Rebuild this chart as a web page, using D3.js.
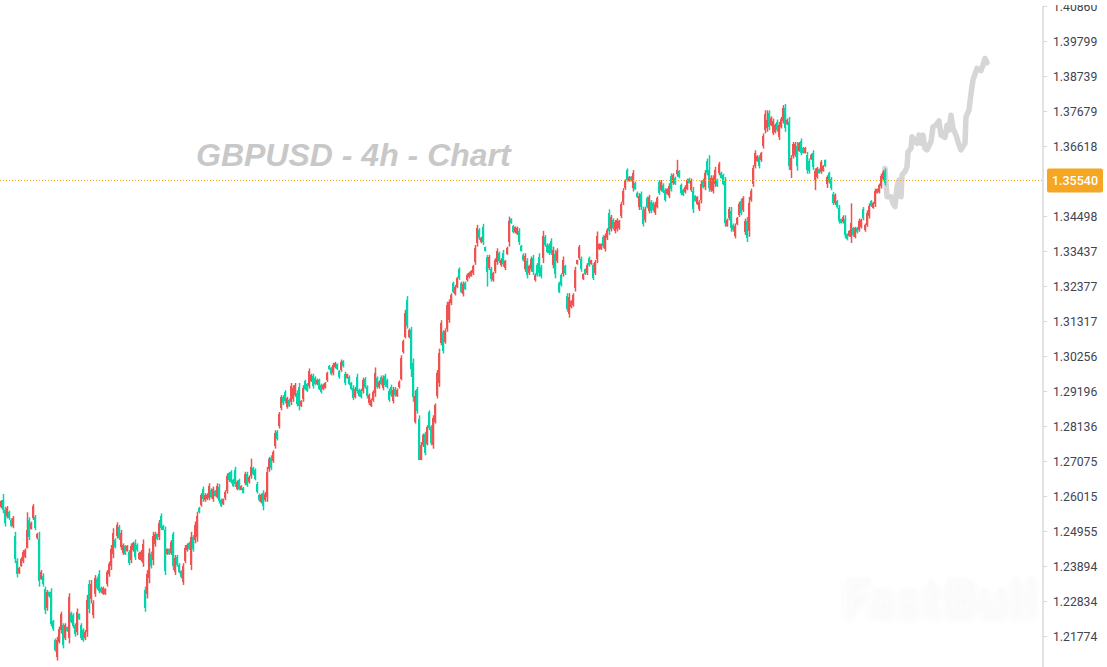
<!DOCTYPE html>
<html><head><meta charset="utf-8">
<script src="https://cdn.jsdelivr.net/npm/d3@7/dist/d3.min.js"></script>
<style>html,body{margin:0;padding:0;background:#fff;overflow:hidden}svg{display:block}</style>
</head><body><svg id="c" width="1107" height="667"></svg>
<script>
// Prices in 1/10000 units, one entry per 4h candle
const highs=[
12589,12608,12569,12571,12557,12534,12541,12493,12413,12387,
12416,12438,12443,12552,12537,12524,12577,12544,12490,12493,
12377,12367,12327,12317,12312,12322,12226,12170,12175,12206,
12251,12216,12216,12206,12307,12251,12246,12216,12261,12246,
12216,12201,12196,12302,12347,12347,12286,12362,12357,12377,
12327,12327,12322,12377,12403,12453,12504,12473,12522,12514,
12499,12458,12453,12453,12438,12458,12463,12470,12458,12433,
12438,12470,12327,12377,12443,12433,12493,12493,12488,12529,
12549,12514,12509,12443,12443,12468,12493,12423,12423,12398,
12377,12398,12453,12458,12463,12493,12483,12524,12554,12569,
12610,12630,12610,12610,12640,12625,12630,12620,12640,12638,
12594,12594,12619,12670,12675,12680,12654,12690,12649,12654,
12634,12629,12675,12675,12664,12715,12690,12685,12644,12609,
12609,12619,12614,12690,12720,12725,12740,12801,12801,12856,
12907,12907,12922,12902,12897,12944,12937,12944,12922,12944,
12892,12937,12954,12944,12988,12972,12972,12964,12957,12957,
12942,12942,12947,12978,12998,12993,13005,13008,13003,12983,
13015,13013,12978,12972,12967,12947,12937,12932,12972,12927,
12927,12960,12962,12937,12912,12897,12922,12991,12964,12952,
12967,12967,12972,12957,12927,12939,12932,12932,12927,12952,
13028,13075,13166,13207,13109,13114,13018,12922,12932,12846,
12765,12791,12796,12816,12861,12816,12846,12882,12983,13048,
13134,13104,13109,13190,13197,13216,13251,13241,13266,13294,
13251,13251,13251,13276,13281,13286,13302,13362,13423,13413,
13387,13426,13357,13332,13332,13296,13281,13322,13352,13342,
13322,13347,13317,13357,13448,13443,13423,13418,13418,13413,
13362,13337,13337,13322,13302,13327,13332,13276,13307,13337,
13302,13405,13392,13367,13367,13382,13357,13347,13352,13251,
13276,13327,13302,13216,13216,13195,13216,13296,13317,13362,
13327,13276,13291,13307,13327,13317,13307,13317,13403,13367,
13367,13392,13397,13413,13470,13453,13443,13438,13443,13438,
13493,13534,13561,13594,13571,13571,13589,13554,13524,13519,
13524,13478,13478,13509,13514,13498,13493,13493,13509,13559,
13559,13549,13534,13534,13549,13579,13579,13569,13620,13589,
13548,13533,13543,13563,13566,13563,13538,13513,13510,13498,
13558,13563,13589,13624,13634,13573,13573,13599,13563,13614,
13584,13578,13568,13442,13477,13477,13427,13427,13447,13493,
13503,13510,13442,13447,13508,13533,13604,13649,13634,13634,
13644,13700,13770,13770,13770,13752,13745,13730,13742,13735,
13750,13786,13789,13745,13750,13634,13674,13674,13674,13674,
13685,13659,13659,13644,13624,13639,13649,13594,13599,13594,
13619,13604,13621,13573,13584,13568,13523,13518,13498,13483,
13442,13452,13452,13397,13407,13488,13417,13417,13417,13442,
13442,13477,13427,13467,13488,13498,13493,13533,13533,13548,
13578,13589,13594];
const lows=[
12564,12549,12509,12534,12529,12507,12504,12398,12355,12365,
12387,12398,12413,12443,12468,12500,12529,12498,12470,12327,
12347,12327,12244,12254,12294,12206,12193,12130,12103,12155,
12185,12140,12165,12190,12155,12216,12201,12175,12180,12226,
12165,12160,12165,12175,12246,12276,12231,12296,12317,12307,
12307,12302,12302,12327,12357,12377,12413,12443,12473,12468,
12438,12423,12423,12433,12392,12398,12433,12408,12433,12408,
12403,12387,12251,12291,12337,12382,12392,12448,12468,12468,
12498,12498,12362,12423,12423,12423,12377,12362,12387,12367,
12352,12332,12398,12433,12438,12377,12433,12458,12463,12549,
12569,12584,12584,12589,12589,12594,12584,12600,12594,12579,
12568,12574,12589,12609,12644,12639,12629,12629,12619,12619,
12619,12609,12634,12629,12639,12654,12664,12649,12609,12584,
12579,12558,12584,12584,12675,12680,12702,12745,12770,12806,
12861,12877,12882,12866,12871,12877,12887,12902,12873,12861,
12871,12887,12922,12917,12927,12947,12927,12937,12937,12922,
12912,12922,12927,12947,12983,12967,12967,12988,12983,12957,
12978,12991,12937,12957,12937,12922,12892,12897,12912,12902,
12897,12912,12927,12897,12877,12871,12887,12902,12927,12927,
12937,12922,12932,12927,12887,12902,12882,12902,12902,12927,
12952,13033,13079,13109,13079,12962,12887,12821,12851,12710,
12710,12750,12725,12755,12801,12755,12745,12821,12897,12932,
13058,13033,13063,13099,13126,13180,13216,13209,13231,13256,
13216,13206,13226,13251,13261,13266,13271,13302,13357,13377,
13367,13362,13342,13236,13286,13251,13251,13276,13302,13307,
13296,13296,13286,13332,13357,13426,13397,13397,13392,13362,
13342,13312,13281,13261,13271,13281,13271,13251,13266,13266,
13261,13307,13357,13337,13332,13332,13291,13261,13307,13216,
13236,13266,13271,13160,13142,13170,13175,13221,13302,13317,
13281,13256,13271,13271,13296,13302,13256,13271,13307,13347,
13347,13352,13342,13377,13392,13403,13408,13397,13403,13408,
13443,13483,13529,13554,13554,13554,13524,13529,13504,13468,
13468,13418,13430,13473,13458,13458,13463,13453,13473,13514,
13524,13519,13493,13514,13504,13524,13544,13544,13569,13564,
13513,13510,13518,13528,13548,13523,13459,13493,13483,13465,
13488,13533,13528,13573,13523,13523,13518,13538,13538,13573,
13563,13543,13417,13417,13437,13402,13402,13382,13422,13447,
13452,13462,13392,13371,13387,13493,13538,13594,13614,13594,
13614,13654,13700,13705,13710,13722,13695,13700,13705,13680,
13715,13730,13705,13725,13589,13565,13624,13629,13587,13644,
13634,13639,13639,13578,13578,13619,13589,13528,13563,13578,
13578,13584,13599,13535,13548,13528,13483,13483,13472,13427,
13427,13427,13382,13376,13387,13368,13387,13382,13397,13402,
13412,13437,13402,13417,13442,13477,13472,13477,13518,13518,
13533,13558,13543];
const opens=[
12568,12590,12560,12540,12552,12530,12510,12480,12405,12368,
12391,12404,12418,12443,12528,12503,12535,12538,12473,12470,
12350,12360,12320,12262,12310,12310,12222,12165,12113,12160,
12195,12210,12172,12204,12170,12247,12240,12210,12190,12243,
12210,12195,12170,12190,12335,12290,12240,12305,12350,12365,
12324,12306,12305,12334,12364,12388,12426,12468,12480,12507,
12447,12428,12449,12436,12431,12407,12437,12460,12454,12412,
12408,12400,12316,12304,12353,12426,12407,12455,12485,12477,
12542,12512,12500,12426,12440,12430,12485,12371,12418,12394,
12373,12342,12406,12437,12459,12394,12476,12468,12476,12566,
12575,12623,12588,12592,12597,12620,12591,12617,12600,12630,
12590,12577,12594,12618,12670,12674,12650,12681,12624,12649,
12621,12626,12640,12668,12643,12663,12686,12680,12639,12605,
12584,12610,12589,12600,12682,12718,12708,12753,12796,12813,
12868,12902,12916,12871,12893,12887,12894,12908,12915,12932,
12874,12894,12949,12940,12936,12951,12965,12960,12940,12952,
12937,12925,12930,12952,12996,12989,12973,12991,13000,12979,
12984,13010,12972,12959,12962,12943,12930,12902,12963,12923,
12922,12919,12957,12931,12882,12875,12892,12915,12958,12931,
12962,12929,12966,12952,12921,12933,12890,12927,12906,12931,
12955,13038,13082,13195,13084,13105,13005,12826,12925,12835,
12712,12755,12790,12760,12855,12810,12755,12827,12905,12945,
13065,13098,13068,13106,13135,13185,13246,13214,13236,13288,
13246,13213,13247,13255,13264,13269,13276,13310,13367,13408,
13370,13416,13355,13325,13293,13289,13256,13283,13310,13337,
13300,13339,13291,13336,13371,13441,13419,13400,13396,13405,
13359,13333,13289,13313,13276,13288,13323,13255,13301,13327,
13296,13322,13387,13363,13362,13375,13301,13335,13314,13246,
13270,13275,13297,13208,13153,13174,13181,13232,13304,13324,
13320,13259,13288,13276,13322,13304,13300,13278,13321,13350,
13350,13386,13350,13382,13458,13410,13438,13403,13409,13412,
13450,13491,13534,13588,13556,13569,13534,13550,13521,13476,
13516,13469,13437,13504,13466,13492,13488,13459,13478,13552,
13529,13544,13528,13517,13511,13571,13549,13565,13577,13585,
13543,13530,13522,13533,13563,13529,13527,13510,13487,13470,
13498,13558,13537,13616,13590,13530,13526,13547,13559,13579,
13581,13573,13555,13421,13443,13466,13423,13389,13426,13454,
13495,13469,13400,13436,13405,13499,13548,13602,13617,13628,
13618,13661,13710,13715,13761,13726,13702,13704,13736,13688,
13720,13738,13777,13728,13735,13590,13631,13636,13662,13648,
13677,13656,13642,13634,13617,13622,13640,13560,13568,13592,
13584,13587,13618,13548,13579,13562,13517,13488,13494,13475,
13440,13431,13442,13394,13390,13385,13413,13387,13414,13408,
13416,13471,13406,13424,13449,13495,13475,13485,13520,13522,
13540,13563,13586];
const closes=[
12585,12560,12520,12565,12534,12512,12535,12410,12365,12384,
12412,12432,12438,12500,12478,12520,12570,12505,12487,12345,
12372,12335,12255,12310,12298,12215,12198,12135,12165,12200,
12245,12150,12210,12192,12295,12220,12207,12182,12250,12230,
12172,12165,12190,12285,12260,12335,12278,12352,12323,12315,
12310,12323,12319,12370,12396,12442,12490,12447,12515,12475,
12490,12453,12427,12450,12400,12449,12459,12418,12437,12429,
12433,12457,12262,12365,12428,12390,12479,12486,12471,12520,
12505,12500,12375,12440,12426,12462,12390,12414,12392,12371,
12356,12388,12445,12454,12442,12476,12440,12515,12541,12552,
12604,12591,12606,12606,12632,12599,12623,12603,12633,12587,
12572,12591,12614,12661,12649,12645,12633,12638,12644,12624,
12632,12612,12669,12636,12660,12690,12668,12654,12614,12588,
12604,12570,12609,12675,12713,12687,12734,12792,12775,12849,
12900,12882,12888,12897,12875,12934,12929,12938,12880,12873,
12889,12929,12927,12921,12979,12968,12934,12941,12954,12927,
12917,12939,12944,12973,12985,12971,12999,13005,12986,12961,
13009,12994,12943,12970,12942,12926,12899,12927,12921,12906,
12902,12953,12932,12903,12907,12893,12917,12975,12933,12948,
12942,12960,12938,12932,12893,12908,12924,12907,12923,12948,
13020,13070,13155,13118,13104,12985,12900,12905,12860,12712,
12755,12785,12733,12810,12808,12762,12838,12876,12973,13035,
13125,13040,13102,13180,13190,13211,13221,13236,13261,13262,
13221,13244,13230,13272,13278,13283,13297,13353,13413,13382,
13384,13372,13345,13280,13325,13258,13276,13315,13344,13312,
13318,13304,13312,13353,13435,13429,13401,13415,13414,13370,
13345,13316,13329,13270,13297,13320,13280,13272,13272,13276,
13267,13390,13362,13341,13337,13339,13347,13273,13345,13221,
13242,13318,13276,13168,13205,13191,13210,13285,13315,13355,
13288,13273,13274,13302,13301,13315,13263,13310,13389,13364,
13364,13358,13389,13408,13404,13446,13413,13432,13437,13434,
13486,13526,13556,13560,13569,13556,13579,13533,13507,13511,
13476,13427,13471,13478,13506,13464,13467,13487,13504,13521,
13554,13523,13499,13531,13542,13532,13574,13548,13590,13568,
13518,13513,13539,13558,13551,13557,13470,13496,13506,13493,
13548,13538,13580,13581,13534,13566,13565,13590,13542,13608,
13566,13548,13430,13438,13471,13413,13406,13420,13443,13486,
13460,13503,13434,13382,13490,13527,13594,13641,13631,13600,
13640,13693,13760,13740,13719,13747,13737,13725,13711,13727,
13745,13778,13717,13742,13600,13625,13667,13667,13600,13670,
13641,13642,13656,13588,13585,13636,13598,13586,13594,13580,
13613,13601,13602,13567,13553,13534,13489,13513,13476,13435,
13429,13448,13392,13379,13404,13430,13391,13412,13400,13436,
13438,13443,13423,13460,13481,13480,13490,13525,13531,13544,
13571,13584,13551];
// Grey projected path after the last candle
const forecastSteps=[442,443,445,446,447,448,449,450,450.5,452,453,453.5,455,455.5,457,458,459,460,461,462,463,465,466,467.5,469,470,472,473,474,475,476,477.5,479,480,482,482.5,484,485,486,488,490,491,492,493];
const forecastPrices=[13594,13508,13508,13488,13478,13538,13559,13508,13574,13584,13599,13644,13655,13690,13675,13670,13695,13670,13695,13655,13650,13675,13720,13725,13738,13695,13688,13725,13710,13755,13715,13695,13665,13650,13670,13750,13771,13821,13862,13897,13890,13907,13927,13914];
const tickValues=[1.40860,1.39799,1.38739,1.37679,1.36618,1.34498,1.33437,1.32377,1.31317,1.30256,1.29196,1.28136,1.27075,1.26015,1.24955,1.23894,1.22834,1.21774,1.20714];
const lastPrice=1.35540;
const titleText="GBPUSD - 4h - Chart";
const watermarkText="FastBull";

const UP="#f0524f",DOWN="#00d6aa",ORANGE="#f5a623";
const svg=d3.select("#c");
const x=d3.scaleLinear().domain([0,500]).range([1,1001]);
const y=d3.scaleLinear().domain([1.20714,1.40860]).range([671,6]);
const n=Math.min(highs.length,lows.length,opens.length,closes.length);
const candles=d3.range(n).map(i=>({i,h:highs[i]/1e4,l:lows[i]/1e4,o:opens[i]/1e4,c:closes[i]/1e4}));

const defs=svg.append("defs");
defs.append("clipPath").attr("id","plot").append("rect").attr("x",0).attr("y",0).attr("width",1043).attr("height",667);
defs.append("clipPath").attr("id","axisclip").append("rect").attr("x",1042).attr("y",5).attr("width",65).attr("height",662);
const f=defs.append("filter").attr("id","wm").attr("x","-10%").attr("y","-30%").attr("width","120%").attr("height","170%");
f.append("feDropShadow").attr("dx",0).attr("dy",4).attr("stdDeviation",4).attr("flood-color","#000").attr("flood-opacity",0.035);

// watermark
svg.append("g").attr("clip-path","url(#plot)").append("text")
 .attr("x",842).attr("y",615).attr("font-family","Lato, 'Open Sans', sans-serif").attr("font-weight",900)
 .attr("font-size",51).attr("letter-spacing",2).attr("fill","#fbfbfb").attr("filter","url(#wm)").text(watermarkText);

// title
svg.append("text").attr("x",196).attr("y",166)
 .attr("font-family","'Liberation Sans',Arial,sans-serif").attr("font-weight",700).attr("font-style","italic")
 .attr("font-size",32).attr("fill","#c8c8c8").text(titleText);

// forecast
const line=d3.line().x(d=>x(d[0])).y(d=>y(d[1]/1e4));
svg.append("path").datum(d3.zip(forecastSteps,forecastPrices)).attr("d",line)
 .attr("fill","none").attr("stroke","#d6d6d6").attr("stroke-width",5.5).attr("stroke-linejoin","round").attr("stroke-linecap","round");

// candles
const g=svg.append("g");
const col=d=>d.c>=d.o?UP:DOWN;
g.selectAll("rect.w").data(candles).join("rect").attr("class","w")
 .attr("x",d=>Math.round(x(d.i))-0.25).attr("width",1.5)
 .attr("y",d=>y(d.h)).attr("height",d=>Math.max(1,y(d.l)-y(d.h))).attr("fill",col);
g.selectAll("rect.b").data(candles).join("rect").attr("class","b").attr("shape-rendering","crispEdges")
 .attr("x",d=>Math.round(x(d.i))-1).attr("width",2)
 .attr("y",d=>y(Math.max(d.o,d.c))).attr("height",d=>Math.max(1,Math.abs(y(d.o)-y(d.c)))).attr("fill",col);

// price line
const py=Math.round(y(lastPrice))-1.5;
svg.append("line").attr("x1",0).attr("x2",1043).attr("y1",py).attr("y2",py)
 .attr("stroke",ORANGE).attr("stroke-width",1).attr("stroke-dasharray","1 2");

// axis
const ax=svg.append("g").attr("clip-path","url(#axisclip)");
ax.append("line").attr("x1",1043).attr("x2",1043).attr("y1",6).attr("y2",667).attr("stroke","#d6d6d6").attr("stroke-width",1.4);
const axis=d3.axisRight(y).tickValues(tickValues).tickFormat(d3.format(".5f")).tickSize(4).tickPadding(6);
const ag=ax.append("g").attr("transform","translate(1043,0)").call(axis);
ag.select(".domain").remove();
ag.selectAll(".tick line").attr("stroke","#d6d6d6");
ag.selectAll(".tick text").attr("font-family","Roboto,sans-serif").attr("font-size",12.2).attr("fill","#3f4450").attr("dy","0.36em");

// price badge
svg.append("rect").attr("x",1047).attr("y",py-12).attr("width",56).attr("height",24).attr("rx",2).attr("fill",ORANGE);
svg.append("text").attr("x",1075).attr("y",py+4.5).attr("text-anchor","middle").attr("font-family","Roboto,sans-serif")
 .attr("font-size",12.5).attr("font-weight",500).attr("fill","#fff").text(d3.format(".5f")(lastPrice));
</script></body></html>
